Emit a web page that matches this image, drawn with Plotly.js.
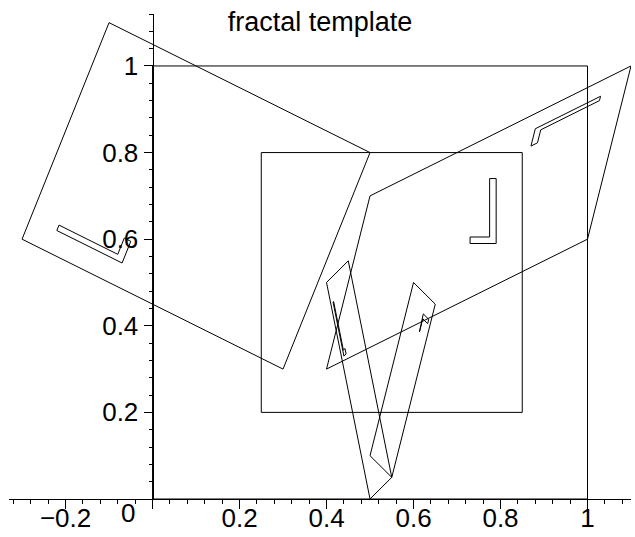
<!DOCTYPE html>
<html>
<head>
<meta charset="utf-8">
<script src="https://cdn.plot.ly/plotly-3.0.1.min.js"></script>
<style>html,body{margin:0;padding:0;background:#fff;}#chart{width:635px;height:537px;}</style>
</head>
<body>
<div id="chart"></div>
<script>
// Outlines (data coordinates)
var frameX = [0, 1, 1, 0, 0];
var frameY = [0, 0, 1, 1, 0];
var innerX = [0.25, 0.85, 0.85, 0.25, 0.25];
var innerY = [0.2, 0.2, 0.8, 0.8, 0.2];
var leftX = [0.5, 0.3, -0.3, -0.1, 0.5];
var leftY = [0.8, 0.3, 0.6, 1.1, 0.8];
var rightX = [0.4, 0.5, 1.1, 1.0, 0.4];
var rightY = [0.3, 0.7, 1.0, 0.6, 0.3];
var quadAX = [0.55, 0.5, 0.4, 0.45, 0.55];
var quadAY = [0.05, 0, 0.5, 0.55, 0.05];
var quadBX = [0.5, 0.55, 0.65, 0.6, 0.5];
var quadBY = [0.1, 0.05, 0.45, 0.5, 0.1];

// Small L-shaped marks
var markInnerX = [0.775, 0.79, 0.79, 0.73, 0.73, 0.775, 0.775];
var markInnerY = [0.74, 0.74, 0.59, 0.59, 0.605, 0.605, 0.74];
var markLeftX = [-0.215, -0.22, -0.07, -0.05, -0.065, -0.08, -0.215];
var markLeftY = [0.6325, 0.62, 0.545, 0.595, 0.6025, 0.565, 0.6325];
var markRightX = [1.0275, 1.03, 0.88, 0.87, 0.885, 0.8925, 1.0275];
var markRightY = [0.92, 0.93, 0.855, 0.815, 0.8225, 0.8525, 0.92];
var markAX = [0.41625, 0.415, 0.44, 0.445, 0.4425, 0.43875, 0.41625];
var markAY = [0.45625, 0.455, 0.33, 0.335, 0.3475, 0.34375, 0.45625];
var markBX = [0.6325, 0.635, 0.6225, 0.6125, 0.61375, 0.62125, 0.6325];
var markBY = [0.405, 0.415, 0.4275, 0.3875, 0.38625, 0.41625, 0.405];

// Tick labels
var xTickVals = [-0.2, 0, 0.2, 0.4, 0.6, 0.8, 1];
var xTickText = ['\u22120.2', '', '0.2', '0.4', '0.6', '0.8', '1'];
var yTickVals = [0, 0.2, 0.4, 0.6, 0.8, 1];
var yTickText = ['', '0.2', '0.4', '0.6', '0.8', '1'];
var titleText = 'fractal template';

var outlines = [
  [frameX, frameY], [innerX, innerY], [leftX, leftY], [rightX, rightY],
  [quadAX, quadAY], [quadBX, quadBY],
  [markInnerX, markInnerY], [markLeftX, markLeftY], [markRightX, markRightY],
  [markAX, markAY], [markBX, markBY]
];

var traces = outlines.map(function (p) {
  return {
    x: p[0], y: p[1], type: 'scatter', mode: 'lines',
    line: {color: '#000', width: 1},
    hoverinfo: 'skip', showlegend: false, cliponaxis: false
  };
});

var xmin = -0.33, xmax = 1.1;
var font = {family: 'Liberation Sans, Arial, sans-serif', size: 26, color: '#000'};

var layout = {
  width: 635, height: 537,
  margin: {l: 9, r: 4, t: 14, b: 38, pad: 0},
  paper_bgcolor: '#fff', plot_bgcolor: '#fff',
  showlegend: false,
  title: {
    text: titleText, x: 0.5, xref: 'paper', y: 1 - 22 / 537, yref: 'container',
    xanchor: 'center', yanchor: 'middle',
    font: {family: 'Liberation Sans, Arial, sans-serif', size: 27, color: '#000'}
  },
  xaxis: {
    range: [xmin, xmax], showgrid: false, zeroline: false,
    showline: true, linecolor: '#000', linewidth: 1,
    tickmode: 'array', tickvals: xTickVals, ticktext: xTickText,
    ticks: 'outside', ticklen: 9, tickcolor: '#000', tickwidth: 1,
    tickfont: font, ticklabelstandoff: -13,
    minor: {tickmode: 'linear', tick0: 0, dtick: 0.04, ticks: 'outside', ticklen: 4, tickcolor: '#000', tickwidth: 1, showgrid: false},
    fixedrange: true
  },
  yaxis: {
    range: [0, 1.12], showgrid: false, zeroline: false,
    anchor: 'free', position: (0 - xmin) / (xmax - xmin),
    showline: true, linecolor: '#000', linewidth: 1,
    tickmode: 'array', tickvals: yTickVals, ticktext: yTickText,
    ticks: 'outside', ticklen: 9, tickcolor: '#000', tickwidth: 1,
    tickfont: font,
    minor: {tickmode: 'linear', tick0: 0, dtick: 0.04, ticks: 'outside', ticklen: 4, tickcolor: '#000', tickwidth: 1, showgrid: false},
    fixedrange: true
  },
  annotations: [{
    text: '0', x: -0.057, xref: 'x', y: 0, yref: 'paper',
    yanchor: 'middle', xanchor: 'center', yshift: -14, showarrow: false,
    font: font
  }]
};

Plotly.newPlot('chart', traces, layout, {staticPlot: true, displayModeBar: false});
</script>
</body>
</html>
